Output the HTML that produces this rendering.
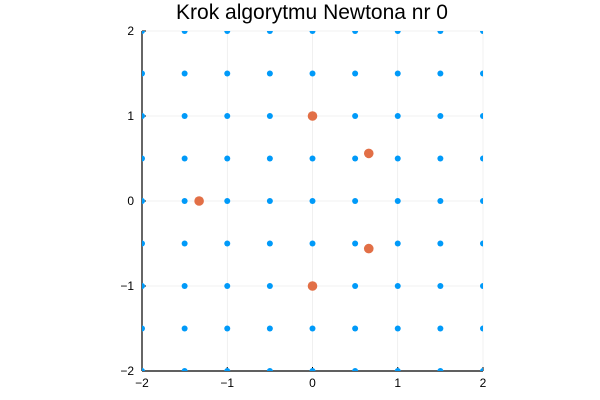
<!DOCTYPE html>
<html><head><meta charset="utf-8"><style>
html,body{margin:0;padding:0;background:#fff;}
svg{display:block;font-family:"Liberation Sans","DejaVu Sans",sans-serif;}
</style></head><body>
<svg id="chart" width="600" height="400" viewBox="0 0 600 400">
<defs><clipPath id="pa"><rect x="142" y="31" width="341" height="340"/></clipPath></defs>
<text x="312" y="19" text-anchor="middle" font-size="21" fill="#000">Krok algorytmu Newtona nr 0</text>
<g id="grid"></g>
<g id="axes"></g>
<g id="marks" clip-path="url(#pa)"></g>
</svg>
<script>
const xTicks=[-2,-1,0,1,2];
const yTicks=[-2,-1,0,1,2];
const gridXs=[-2,-1.5,-1,-0.5,0,0.5,1,1.5,2];
const gridYs=[-2,-1.5,-1,-0.5,0,0.5,1,1.5,2];
const rootsX=[0,0.66,-1.33,0.66,0];
const rootsY=[1,0.56,0,-0.56,-1];
const X0=142,X1=483,Y0=371,Y1=31;
const sx=v=>X0+(v+2)/4*(X1-X0);
const sy=v=>Y0-(v+2)/4*(Y0-Y1);
const NS='http://www.w3.org/2000/svg';
function mk(t,a,p){const e=document.createElementNS(NS,t);for(const k in a)e.setAttribute(k,a[k]);p.appendChild(e);return e;}
const grid=document.getElementById('grid'),axes=document.getElementById('axes'),marks=document.getElementById('marks');
xTicks.forEach(v=>{
 const l=mk('line',{x1:sx(v),x2:sx(v),y1:Y1,y2:Y0,stroke:'#000','stroke-opacity':0.1,'stroke-width':0.6},grid);
 
 
 const t=mk('line',{x1:sx(v),x2:sx(v),y1:Y0,y2:Y0-4,stroke:'#000','stroke-width':1},axes);
 
 
 const tx=mk('text',{x:sx(v),y:Y0+16,'text-anchor':'middle','font-size':12},axes);
 tx.textContent=v<0?'\u2212'+(-v):String(v);
 
 
});
yTicks.forEach(v=>{
 const l=mk('line',{x1:X0,x2:X1,y1:sy(v),y2:sy(v),stroke:'#000','stroke-opacity':0.1,'stroke-width':0.6},grid);
 
 
 const t=mk('line',{x1:X0,x2:X0+4,y1:sy(v),y2:sy(v),stroke:'#000','stroke-width':1},axes);
 
 
 const tx=mk('text',{x:X0-8,y:sy(v)+4,'text-anchor':'end','font-size':12},axes);
 tx.textContent=v<0?'\u2212'+(-v):String(v);
 
 
});
const ax=mk('line',{x1:X0,x2:X0,y1:Y1,y2:Y0,stroke:'#000','stroke-width':1.2},axes);


const bx=mk('line',{x1:X0,x2:X1,y1:Y0,y2:Y0,stroke:'#000','stroke-width':1.2},axes);


gridXs.forEach(x=>gridYs.forEach(y=>{
 const c=mk('circle',{cx:sx(x),cy:sy(y),r:3,fill:'#009af9'},marks);
 
 
}));
rootsX.forEach((x,i)=>{
 const c=mk('circle',{cx:sx(x),cy:sy(rootsY[i]),r:4.8,fill:'#e26f46'},marks);
 
 
});
</script>
</body></html>
